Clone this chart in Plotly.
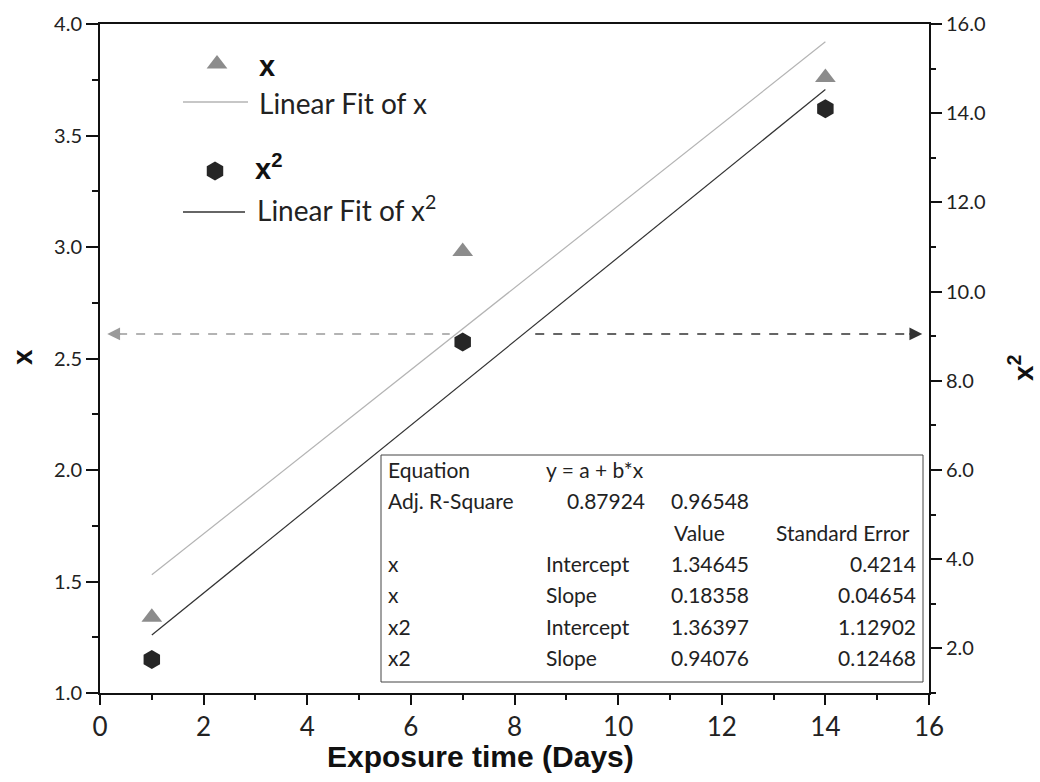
import plotly.graph_objects as go

# ---------------- data ----------------
days = [1, 7, 14]
x_vals = [1.34, 2.98, 3.76]          # left axis
x2_vals = [1.75, 8.87, 14.1]         # right axis
fit_days = [1, 14]
x_fit = [1.53, 3.92]
x2_fit = [2.30, 14.53]

x_ticks = [0, 2, 4, 6, 8, 10, 12, 14, 16]

eq_row = ["Equation", "y = a + b*x"]
adj_row = ["Adj. R-Square", "0.87924", "0.96548"]
hdr_row = ["Value", "Standard Error"]
p_series = ["x", "x", "x2", "x2"]
p_names = ["Intercept", "Slope", "Intercept", "Slope"]
p_values = ["1.34645", "0.18358", "1.36397", "0.94076"]
p_errors = ["0.4214", "0.04654", "1.12902", "0.12468"]

arrow_level = 2.61   # left-axis value of the dashed arrows

# ---------------- layout helpers ----------------
W, H = 1040, 782
ML, MR, MT, MB = 100, 111, 24, 89
PW, PH = W - ML - MR, H - MT - MB


def fx(p):
    return (p - ML) / PW


def fy(p):
    return (H - MB - p) / PH


FONT = "Lato"
TRI_C = "#8c8c8c"
HEX_C = "#262626"
FITX_C = "#b4b4b4"
FITX2_C = "#333333"

fig = go.Figure()

fig.add_trace(go.Scatter(x=fit_days, y=x_fit, mode="lines",
                         line=dict(color=FITX_C, width=1.2), showlegend=False))
fig.add_trace(go.Scatter(x=fit_days, y=x2_fit, mode="lines", yaxis="y2",
                         line=dict(color=FITX2_C, width=1.2), showlegend=False))
fig.add_trace(go.Scatter(x=days, y=x_vals, mode="markers",
                         marker=dict(symbol="triangle-up", size=18, color=TRI_C),
                         showlegend=False))
fig.add_trace(go.Scatter(x=days, y=x2_vals, mode="markers", yaxis="y2",
                         marker=dict(symbol="hexagon", size=19, color=HEX_C),
                         showlegend=False))

# legend symbols (paper-like overlay axes)
fig.add_trace(go.Scatter(x=[fx(217)], y=[fy(64)], mode="markers", xaxis="x3", yaxis="y3",
                         marker=dict(symbol="triangle-up", size=18, color=TRI_C),
                         showlegend=False, hoverinfo="skip"))
fig.add_trace(go.Scatter(x=[fx(215)], y=[fy(171)], mode="markers", xaxis="x3", yaxis="y3",
                         marker=dict(symbol="hexagon", size=19, color=HEX_C),
                         showlegend=False, hoverinfo="skip"))

shapes = []
annotations = []

# legend lines
shapes.append(dict(type="line", xref="paper", yref="paper", x0=fx(183), x1=fx(248),
                   y0=fy(102), y1=fy(102), line=dict(color=FITX_C, width=1.3)))
shapes.append(dict(type="line", xref="paper", yref="paper", x0=fx(183), x1=fx(245),
                   y0=fy(212), y1=fy(212), line=dict(color=FITX2_C, width=1.3)))

leg_font = dict(family=FONT, size=28, color="#222")
bold_font = dict(family="Liberation Sans", size=29, color="#111")
annotations += [
    dict(x=fx(257), y=fy(66), text="<b>x</b>", font=bold_font),
    dict(x=fx(257), y=fy(103), text="Linear Fit of x", font=leg_font),
    dict(x=fx(253), y=fy(167), text="<b>x<sup>2</sup></b>", font=bold_font),
    dict(x=fx(255), y=fy(208), text="Linear Fit of x<sup>2</sup>", font=leg_font),
]
for a in annotations:
    a.update(xref="paper", yref="paper", xanchor="left", yanchor="middle", showarrow=False)

# dashed arrows
shapes.append(dict(type="line", xref="x", yref="y", x0=0.35, x1=6.75,
                   y0=arrow_level, y1=arrow_level,
                   line=dict(color="#9a9a9a", width=1.4, dash="dash")))
shapes.append(dict(type="line", xref="x", yref="y", x0=8.4, x1=15.6,
                   y0=arrow_level, y1=arrow_level,
                   line=dict(color="#333333", width=1.4, dash="dash")))
annotations.append(dict(x=0.14, y=arrow_level, xref="x", yref="y", ax=16, ay=0,
                        text=" ", showarrow=True, arrowhead=2, arrowsize=1.6,
                        arrowwidth=1.6, arrowcolor="#9a9a9a", standoff=0))
annotations.append(dict(x=15.87, y=arrow_level, xref="x", yref="y", ax=-16, ay=0,
                        text=" ", showarrow=True, arrowhead=2, arrowsize=1.6,
                        arrowwidth=1.6, arrowcolor="#333333", standoff=0))

# statistics table
shapes.append(dict(type="rect", xref="paper", yref="paper", x0=fx(381), x1=fx(923),
                   y0=fy(682), y1=fy(455), line=dict(color="#444", width=1),
                   fillcolor="white", layer="above"))
tfont = dict(family=FONT, size=21, color="#222")
row_y = [469, 500, 532, 563, 594, 626, 657]


def tcell(xp, yp, text, anchor):
    annotations.append(dict(x=fx(xp), y=fy(yp), xref="paper", yref="paper", text=text,
                            xanchor=anchor, yanchor="middle", showarrow=False, font=tfont))


tcell(386, row_y[0], eq_row[0], "left")
tcell(544, row_y[0], eq_row[1], "left")
tcell(386, row_y[1], adj_row[0], "left")
tcell(647, row_y[1], adj_row[1], "right")
tcell(751, row_y[1], adj_row[2], "right")
tcell(672, row_y[2], hdr_row[0], "left")
tcell(912, row_y[2], hdr_row[1], "right")
for i in range(4):
    yy = row_y[3 + i]
    tcell(386, yy, p_series[i], "left")
    tcell(544, yy, p_names[i], "left")
    tcell(751, yy, p_values[i], "right")
    tcell(918, yy, p_errors[i], "right")

# axis titles
annotations.append(dict(x=fx(22), y=fy(357), xref="paper", yref="paper", text="<b>x</b>",
                        textangle=-90, showarrow=False, xanchor="center", yanchor="middle",
                        font=dict(family="Liberation Sans", size=28, color="#111")))
annotations.append(dict(x=fx(1021), y=fy(368), xref="paper", yref="paper",
                        text="<b>x<sup>2</sup></b>", textangle=-90, showarrow=False,
                        xanchor="center", yanchor="middle",
                        font=dict(family="Liberation Sans", size=28, color="#111")))
annotations.append(dict(x=fx(480), y=fy(756), xref="paper", yref="paper",
                        text="<b>Exposure time (Days)</b>", showarrow=False,
                        xanchor="center", yanchor="middle",
                        font=dict(family="Liberation Sans", size=30, color="#111")))

axis_common = dict(showgrid=False, zeroline=False, showline=True, linecolor="#111",
                   linewidth=2, ticks="outside", tickcolor="#111", tickwidth=2)

fig.update_layout(
    width=W, height=H,
    margin=dict(l=ML, r=MR, t=MT, b=MB, pad=0, autoexpand=False),
    paper_bgcolor="white", plot_bgcolor="white",
    showlegend=False,
    shapes=shapes, annotations=annotations,
    xaxis=dict(range=[0, 16], tickvals=x_ticks, ticklen=10, mirror=True,
               tickfont=dict(family=FONT, size=26, color="#222"),
               minor=dict(dtick=1, ticklen=5, ticks="outside", tickcolor="#111", tickwidth=1.5),
               **axis_common),
    yaxis=dict(range=[1, 4], dtick=0.5, tickformat=".1f", ticklen=12,
               tickfont=dict(family=FONT, size=20, color="#222"),
               minor=dict(dtick=0.25, ticklen=6, ticks="outside", tickcolor="#111", tickwidth=1.5),
               **axis_common),
    yaxis2=dict(range=[1, 16], dtick=2, tick0=0, tickformat=".1f", ticklen=11,
                overlaying="y", side="right",
                tickfont=dict(family=FONT, size=20, color="#222"),
                minor=dict(dtick=1, ticklen=5, ticks="outside", tickcolor="#111", tickwidth=1.5),
                **axis_common),
    xaxis3=dict(range=[0, 1], overlaying="x", visible=False, anchor="y3"),
    yaxis3=dict(range=[0, 1], overlaying="y", visible=False, anchor="x3"),
)

fig.write_html("out.html", config={"displayModeBar": False},
               post_script="document.body.style.margin='0';")
